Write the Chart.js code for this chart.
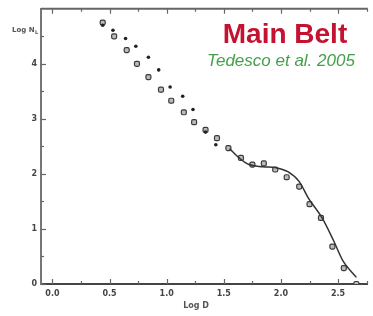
<!DOCTYPE html>
<html>
<head>
<meta charset="utf-8">
<script src="https://cdn.jsdelivr.net/npm/chart.js@4"></script>
<style>
  html, body { margin: 0; padding: 0; background: #fff; overflow: hidden; }
  #wrap { width: 373px; height: 316px; position: relative; }
</style>
</head>
<body>
<div id="wrap"><canvas id="myChart" width="373" height="316"></canvas></div>
<script>
// open squares (Log D, Log N)
var squareX = [0.44, 0.54, 0.65, 0.74, 0.84, 0.95, 1.04, 1.15, 1.24, 1.34, 1.44, 1.54,
               1.65, 1.75, 1.85, 1.95, 2.05, 2.16, 2.25, 2.35, 2.45, 2.55, 2.66];
var squareY = [4.75, 4.50, 4.25, 4.00, 3.76, 3.53, 3.33, 3.12, 2.94, 2.80, 2.65, 2.47,
               2.29, 2.17, 2.19, 2.08, 1.94, 1.77, 1.45, 1.20, 0.68, 0.29, 0.00];
// small filled dots
var dotX = [0.44, 0.53, 0.64, 0.73, 0.84, 0.93, 1.03, 1.14, 1.23, 1.34, 1.43];
var dotY = [4.70, 4.61, 4.46, 4.32, 4.12, 3.89, 3.58, 3.41, 3.17, 2.76, 2.53];
// model curve
var curveX = [1.55, 1.64, 1.72, 1.84, 1.96, 2.06, 2.16, 2.24, 2.36, 2.46, 2.54, 2.66];
var curveY = [2.46, 2.28, 2.17, 2.13, 2.11, 2.04, 1.86, 1.56, 1.20, 0.79, 0.43, 0.12];

var xTicks = [0.0, 0.5, 1.0, 1.5, 2.0, 2.5];
var xMinor = [0.25, 0.75, 1.25, 1.75, 2.25, 2.75];
var yTicks = [0, 1, 2, 3, 4];
var yMinor = [0.5, 1.5, 2.5, 3.5, 4.5];

function pts(xs, ys) {
  var out = [];
  for (var i = 0; i < xs.length; i++) out.push({x: xs[i], y: ys[i]});
  return out;
}

// frame, inward ticks and text labels
var decor = {
  id: 'decor',
  afterDraw: function(chart) {
    var ctx = chart.ctx, a = chart.chartArea;
    var xs = chart.scales.x, ys = chart.scales.y;
    ctx.save();
    // top frame line
    ctx.strokeStyle = '#666';
    ctx.lineWidth = 2;
    ctx.beginPath();
    ctx.moveTo(a.left, a.top);
    ctx.lineTo(a.right, a.top);
    ctx.stroke();

    ctx.lineWidth = 1.2;
    ctx.strokeStyle = '#666';
    function xt(v, len) {
      var p = Math.round(xs.getPixelForValue(v)) + 0.5;
      ctx.beginPath();
      ctx.moveTo(p, a.bottom); ctx.lineTo(p, a.bottom - len);
      ctx.moveTo(p, a.top); ctx.lineTo(p, a.top + len);
      ctx.stroke();
    }
    function yt(v, len) {
      var p = Math.round(ys.getPixelForValue(v)) + 0.5;
      ctx.beginPath();
      ctx.moveTo(a.left, p); ctx.lineTo(a.left + len, p);
      ctx.stroke();
    }
    xTicks.forEach(function(v) { xt(v, 5); });
    xMinor.forEach(function(v) { xt(v, 3); });
    yTicks.forEach(function(v) { yt(v, 5); });
    yMinor.forEach(function(v) { yt(v, 3); });

    // axis titles
    ctx.fillStyle = '#555';
    ctx.font = 'bold 7px "DejaVu Sans"';
    ctx.textBaseline = 'middle';
    ctx.textAlign = 'left';
    ctx.fillText('Log N', 12, 30);
    ctx.font = 'bold 5px "DejaVu Sans"';
    ctx.fillText('L', 35, 33);
    ctx.font = 'bold 8px "DejaVu Sans"';
    ctx.textAlign = 'center';
    ctx.fillText('Log D', 196, 306);

    // heading
    ctx.fillStyle = '#c41230';
    ctx.font = 'bold 28px "Liberation Sans"';
    ctx.fillText('Main Belt', 285, 35);
    ctx.fillStyle = '#45a04a';
    ctx.font = 'italic 17px "Liberation Sans"';
    ctx.fillText('Tedesco et al. 2005', 281, 61);
    ctx.restore();
  }
};

var ctx = document.getElementById('myChart').getContext('2d');
var chart = new Chart(ctx, {
  type: 'scatter',
  data: {
    datasets: [{
      label: 'model',
      type: 'line',
      data: pts(curveX, curveY),
      borderColor: '#333',
      borderWidth: 1.5,
      pointRadius: 0,
      cubicInterpolationMode: 'monotone',
      fill: false
    }, {
      label: 'dots',
      data: pts(dotX, dotY),
      pointStyle: 'circle',
      pointRadius: 1.8,
      backgroundColor: '#222',
      borderColor: '#222',
      borderWidth: 0
    }, {
      label: 'squares',
      data: pts(squareX, squareY),
      pointStyle: 'rectRounded',
      pointRadius: 2.9,
      backgroundColor: '#bbb',
      borderColor: '#3a3a3a',
      borderWidth: 1.2
    }]
  },
  options: {
    responsive: false,
    animation: false,
    layout: { padding: { top: 5, right: 0, left: 0, bottom: 0 } },
    plugins: { legend: { display: false }, tooltip: { enabled: false } },
    scales: {
      x: {
        type: 'linear', min: -0.1, max: 2.76,
        afterBuildTicks: function(s) { s.ticks = xTicks.map(function(v) { return {value: v}; }); },
        afterFit: function(s) { s.height = 32; },
        grid: { display: false, drawTicks: false },
        border: { display: true, color: '#444', width: 2 },
        ticks: {
          padding: 5, color: '#444',
          font: { family: 'DejaVu Sans', size: 8, weight: 'bold' },
          callback: function(v) { return v.toFixed(1); }
        }
      },
      y: {
        type: 'linear', min: 0, max: 5,
        afterBuildTicks: function(s) { s.ticks = yTicks.map(function(v) { return {value: v}; }); },
        afterFit: function(s) { s.width = 41; },
        grid: { display: false, drawTicks: false },
        border: { display: true, color: '#777', width: 2 },
        ticks: {
          padding: 4, color: '#444',
          font: { family: 'DejaVu Sans', size: 8, weight: 'bold' }
        }
      }
    }
  },
  plugins: [decor]
});
</script>
</body>
</html>
